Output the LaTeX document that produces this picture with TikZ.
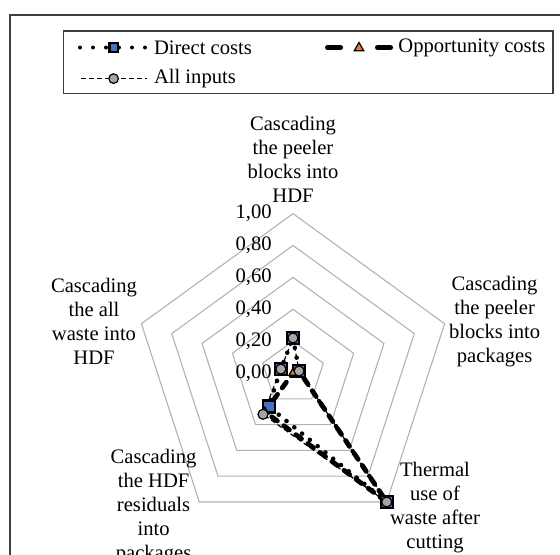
\documentclass[tikz,border=0pt]{standalone}
\usepackage{fontspec}
\setmainfont{Liberation Serif}
\usetikzlibrary{shapes.geometric}
\definecolor{directBlue}{RGB}{68,114,196}
\definecolor{opportunityOrange}{RGB}{237,125,49}
\definecolor{inputsGrey}{RGB}{165,165,165}

\begin{document}
\begin{tikzpicture}[x=0.5pt,y=-0.5pt,%%
  frameStyle/.style={draw=black!75,line width=0.6pt},
  gridStyle/.style={-,draw=black!30,line width=0.55pt},
  textStyle/.style={font=\fontsize{10.3}{12}\selectfont,inner sep=0pt},
  labelStyle/.style={textStyle,align=center},
  tickStyle/.style={textStyle,anchor=east},
  directStyle/.style={line width=2.3pt,dash pattern=on 0pt off 5pt,line cap=round},
  directKeyStyle/.style={line width=2pt,dash pattern=on 0pt off 6.5pt,line cap=round},
  opportunityStyle/.style={line width=2.4pt,dash pattern=on 3.5pt off 4pt,line cap=round},
  opportunityKeyStyle/.style={line width=2.4pt,dash pattern=on 6.6pt off 18.4pt,line cap=round},
  inputsStyle/.style={line width=0.6pt,dash pattern=on 2.5pt off 1.5pt},
  squareMark/.style={rectangle,draw=black,line width=1.1pt,fill=directBlue,minimum size=#1,inner sep=0pt},
  triangleMark/.style={regular polygon,regular polygon sides=3,draw=black,line width=0.6pt,fill=opportunityOrange,minimum size=#1,inner sep=0pt},
  circleMark/.style={circle,draw=black,line width=0.6pt,fill=inputsGrey,minimum size=#1,inner sep=0pt}
]
\useasboundingbox (0,0) rectangle (560,554);
%%
%% Frame and legend box.
\draw[frameStyle] (10,15) rectangle (620,620);
\draw[frameStyle] (63.6,31) rectangle (553,93.6);
%%
%% Legend entries.
\coordinate (dirKeyA) at (80,47.5);
\coordinate (dirKeyB) at (146,47.5);
\draw[directKeyStyle] (dirKeyA) -- (dirKeyB);
\node[squareMark=4.2pt] (dirKeyMark) at (113.6,47.5) {};
\node[textStyle,anchor=west] (dirKeyText) at (153.6,47.5) {Direct costs};
\coordinate (oppKeyA) at (327.4,47.5);
\coordinate (oppKeyB) at (390.6,47.5);
\draw[opportunityKeyStyle] (oppKeyA) -- (oppKeyB);
\node[triangleMark=5.5pt] (oppKeyMark) at (359,48) {};
\node[textStyle,anchor=west] (oppKeyText) at (398,47.5) {Opportunity costs};
\coordinate (inKeyA) at (81,78.6);
\coordinate (inKeyB) at (147,78.6);
\draw[inputsStyle] (inKeyA) -- (inKeyB);
\node[circleMark=4.8pt] (inKeyMark) at (113.6,78.6) {};
\node[textStyle,anchor=west] (inKeyText) at (153.6,78.6) {All inputs};
%%
%% Radar grid, centred at (293,373).
\begin{scope}[shift={(293,373)}]
\foreach \lvl in {0.2,0.4,0.6,0.8,1.0} {
  \pgfmathsetmacro\rad{159.4*\lvl}
  \draw[gridStyle] (-90:\rad) -- (-18:\rad) -- (54:\rad) -- (126:\rad) -- (198:\rad) -- cycle;
}
%% Data points of the three series.
\foreach \v [count=\k from 0] in {0.22,0.04,1.0,0.26,0.08}
  \coordinate (d\k) at ({-90+72*\k}:{159.4*\v});
\foreach \v [count=\k from 0] in {0.0,0.04,1.0,0.30,0.0}
  \coordinate (o\k) at ({-90+72*\k}:{159.4*\v});
\foreach \v [count=\k from 0] in {0.22,0.04,1.0,0.32,0.08}
  \coordinate (a\k) at ({-90+72*\k}:{159.4*\v});
\draw[directStyle] (d0) -- (d1) -- (d2) -- (d3) -- (d4) -- cycle;
\draw[opportunityStyle] (o0) -- (o1) -- (o2) -- (o3) -- (o4) -- cycle;
\draw[inputsStyle] (a0) -- (a1) -- (a2) -- (a3) -- (a4) -- cycle;
\foreach \k in {0,...,4} \node[squareMark=6pt] (dm\k) at (d\k) {};
\foreach \k in {0,...,4} \node[triangleMark=4.5pt] (om\k) at (o\k) {};
\foreach \k in {0,...,4} \node[circleMark=5pt] (am\k) at (a\k) {};
\end{scope}
%%
%% Scale values.
\foreach \v/\t in {0/{0,00},0.2/{0,20},0.4/{0,40},0.6/{0,60},0.8/{0,80},1/{1,00}}
  \node[tickStyle] (tick\t) at (272,{373-159.4*\v}) {\t};
%%
%% Axis labels.
\node[labelStyle] (topLabel) at (293,159) {Cascading\\the peeler\\blocks into\\HDF};
\node[labelStyle] (rightLabel) at (494.6,321.8) {Cascading\\the peeler\\blocks into\\packages};
\node[labelStyle] (leftLabel) at (94,321.8) {Cascading\\the all\\waste into\\HDF};
\node[labelStyle] (lowLeftLabel) at (153.6,506.8) {Cascading\\the HDF\\residuals\\into\\packages};
\node[labelStyle] (lowRightLabel) at (435,507.5) {Thermal\\use of\\waste after\\cutting};
\end{tikzpicture}
\end{document}
